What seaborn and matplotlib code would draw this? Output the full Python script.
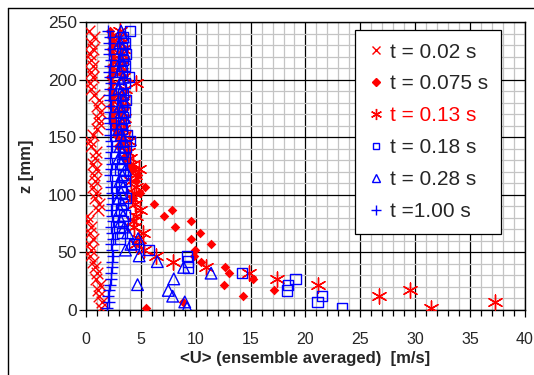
##########################################
##### Velocity profiles <U>(z) at several times
##########################################
import numpy as np
import pandas as pd
import seaborn as sns
import matplotlib.pyplot as plt
from matplotlib.lines import Line2D
from matplotlib.ticker import MultipleLocator

##### Data #####
z_levels = [2, 7, 12, 17, 22, 27, 32, 37, 42, 47, 52, 57, 62, 67, 72, 77, 82,
            87, 92, 97, 102, 107, 112, 117, 122, 127, 132, 137, 142, 147, 152,
            157, 162, 167, 172, 177, 182, 187, 192, 197, 202, 207, 212, 217,
            222, 227, 232, 237, 242]

u_t002 = [1.4, 1.5, 1.2, 1.1, 1.3, 0.9, 1.0, 0.8, 0.6, 0.4, 0.5, 0.3, 0.6, 0.4,
          0.5, 0.2, 0.1, 1.1, 1.2, 0.8, 0.9, 0.6, 0.8, 0.7, 0.9, 0.6, 0.8, 0.9,
          0.5, 0.4, 0.6, 1.0, 1.2, 1.1, 1.3, 1.0, 1.2, 0.7, 0.5, 0.4, 0.6, 0.5,
          0.6, 0.5, 0.4, 0.6, 0.5, 0.7, 0.3]

u_t0075 = [5.5, 8.8, 14.3, 17.1, 12.6, 15.2, 13.0, 12.7, 10.5, 9.8, 9.9, 11.4,
           9.6, 10.4, 8.1, 9.6, 7.1, 7.8, 6.2, 4.3, 4.9, 5.4, 4.6, 4.7, 4.2,
           3.9, 3.6, 3.7, 2.9, 3.2, 2.7, 2.6, 2.5, 2.4, 2.5, 2.3, 2.4, 2.5,
           2.3, 2.4, 2.2, 2.4, 2.3, 2.5, 2.4, 2.3, 2.4, 2.3, 2.2]

u_t013 = [31.4, 37.3, 26.7, 29.5, 21.1, 17.4, 14.9, 10.9, 7.9, 6.4, 5.3, 4.6,
          4.8, 5.2, 4.4, 4.3, 4.6, 4.9, 4.5, 4.2, 4.4, 4.6, 4.1, 4.5, 4.8, 4.3,
          4.0, 3.8, 3.6, 3.9, 3.5, 3.4, 3.2, 3.5, 3.3, 3.2, 3.4, 3.3, 3.6, 4.6,
          3.4, 3.2, 3.1, 3.3, 3.2, 3.4, 3.1, 3.0, 3.1]

u_t018 = [23.3, 21.1, 21.5, 18.3, 18.4, 19.1, 14.2, 9.3, 9.3, 9.2, 5.7, 4.4,
          3.1, 3.3, 3.0, 3.4, 3.5, 3.2, 3.4, 3.6, 3.3, 3.2, 3.5, 3.4, 3.1, 3.3,
          3.5, 3.4, 3.6, 4.0, 3.7, 3.3, 3.2, 3.4, 3.5, 3.3, 3.6, 3.4, 3.2, 3.5,
          3.9, 3.3, 3.5, 3.4, 3.6, 3.3, 3.5, 3.4, 4.0]

u_t028 = [9.2, 9.0, 7.9, 7.5, 4.7, 8.0, 11.4, 8.9, 6.5, 4.85, 3.6, 4.1, 4.75,
          3.8, 3.5, 3.2, 3.4, 3.1, 3.3, 3.0, 3.2, 3.4, 3.1, 3.3, 3.6, 3.2, 3.0,
          3.3, 3.1, 3.4, 3.2, 3.0, 3.3, 3.5, 3.2, 3.1, 3.4, 3.3, 3.0, 3.2, 3.4,
          3.1, 3.3, 3.2, 3.5, 3.3, 3.1, 3.4, 3.2]

u_t100 = [1.9, 2.1, 2.0, 2.1, 2.2, 2.3, 2.3, 2.4, 2.4, 2.5, 2.4, 2.3, 2.5, 2.4,
          2.3, 2.5, 2.4, 2.3, 2.4, 2.5, 2.4, 2.3, 2.4, 2.2, 2.3, 2.4, 2.2, 2.3,
          2.4, 2.3, 2.2, 2.3, 2.2, 2.1, 2.2, 2.3, 2.2, 2.1, 2.2, 2.3, 2.2, 2.1,
          2.2, 2.3, 2.1, 2.2, 2.1, 2.2, 2.0]

labels = ['t = 0.02 s', 't = 0.075 s', 't = 0.13 s', 't = 0.18 s',
          't = 0.28 s', 't =1.00 s']

##### Styles #####
red, blue = '#ff0000', '#0000ff'
asterisk = (6, 2, 0)
series = [
    (u_t002, dict(marker='x', s=70, color=red, linewidth=1.0)),
    (u_t0075, dict(marker='D', s=24, color=red, edgecolor=red, linewidth=0)),
    (u_t013, dict(marker=asterisk, s=115, color=red, linewidth=1.0)),
    (u_t018, dict(marker='s', s=55, facecolor='none', edgecolor=blue, linewidth=1.0)),
    (u_t028, dict(marker='^', s=70, facecolor='none', edgecolor=blue, linewidth=1.0)),
    (u_t100, dict(marker='+', s=85, color=blue, linewidth=1.0)),
]

##### Plot #####
sns.set_theme(style='white')
plt.rcParams['font.family'] = ['Liberation Sans', 'DejaVu Sans']

fig = plt.figure(figsize=(5.34, 3.75), dpi=100)
ax = fig.add_axes([0.161, 0.1733, 0.822, 0.768])

for vals, kw in series:
    df = pd.DataFrame({'U': vals, 'z': z_levels})
    sns.scatterplot(data=df, x='U', y='z', ax=ax, zorder=3, legend=False, **kw)

ax.set_xlim(0, 40)
ax.set_ylim(0, 250)
ax.xaxis.set_major_locator(MultipleLocator(5))
ax.xaxis.set_minor_locator(MultipleLocator(1))
ax.yaxis.set_major_locator(MultipleLocator(50))
ax.yaxis.set_minor_locator(MultipleLocator(10))
ax.set_axisbelow(True)
ax.grid(which='minor', color='#c4c4c4', linewidth=0.9)
ax.grid(which='major', color='black', linewidth=0.9)
ax.tick_params(which='major', direction='out', length=5, width=0.9,
               color='black', bottom=True, left=True)
ax.tick_params(axis='x', which='major', pad=11, labelsize=11.5)
ax.tick_params(axis='y', which='major', pad=1.5, labelsize=12.5)
ax.tick_params(axis='x', which='minor', direction='out', length=4, width=0.9,
               color='black', bottom=True)
ax.tick_params(axis='y', which='minor', length=0)
for sp in ax.spines.values():
    sp.set_color('black')
    sp.set_linewidth(1.0)

ax.set_xlabel('<U> (ensemble averaged)  [m/s]', fontsize=12, fontweight='bold', labelpad=3)
ax.set_ylabel('z [mm]', fontsize=12, fontweight='bold', labelpad=10)

# Legend
handles = [
    Line2D([], [], ls='', marker='x', ms=6, mec=red, mew=1.0),
    Line2D([], [], ls='', marker='D', ms=4, mfc=red, mec=red),
    Line2D([], [], ls='', marker=asterisk, ms=8, mec=red, mew=1.0),
    Line2D([], [], ls='', marker='s', ms=5, mfc='none', mec=blue, mew=1.0),
    Line2D([], [], ls='', marker='^', ms=6, mfc='none', mec=blue, mew=1.0),
    Line2D([], [], ls='', marker='+', ms=7, mec=blue, mew=1.0),
]
leg = ax.legend(handles, labels, loc='upper left',
                bbox_to_anchor=(355 / 534, 1 - 30 / 375),
                bbox_transform=fig.transFigure, fontsize=15, frameon=True,
                fancybox=False, edgecolor='black', framealpha=1,
                borderaxespad=0, handlelength=0.8, handletextpad=0.3,
                labelspacing=0.62, borderpad=0.6)
leg.get_frame().set_linewidth(0.9)
leg.get_texts()[2].set_color(red)

# Outer frame (top and left edges visible)
fig.add_artist(Line2D([8 / 534, 8 / 534], [0, 1 - 8 / 375], transform=fig.transFigure, color='black', lw=1))
fig.add_artist(Line2D([8 / 534, 1], [1 - 8 / 375, 1 - 8 / 375], transform=fig.transFigure, color='black', lw=1))

fig.savefig('out.png', dpi=100)
